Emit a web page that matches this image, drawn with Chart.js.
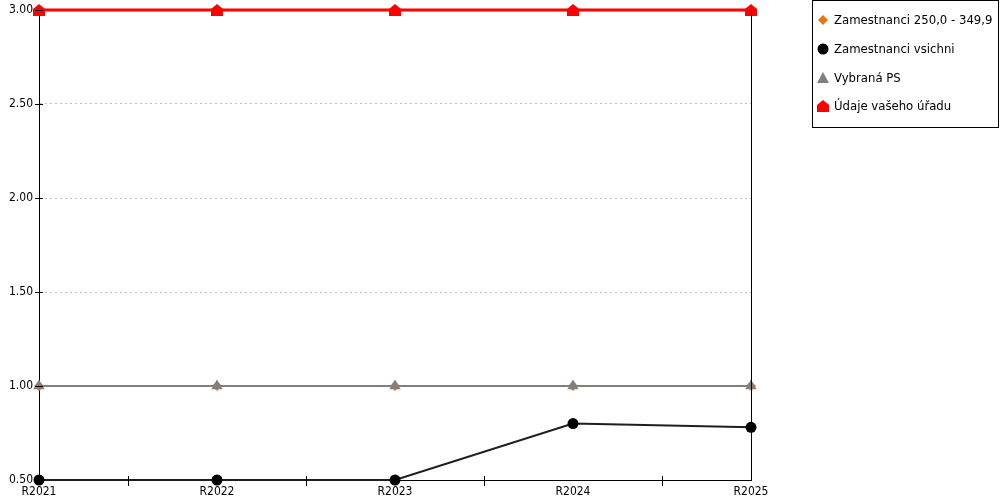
<!DOCTYPE html>
<html>
<head>
<meta charset="utf-8">
<script src="https://cdn.jsdelivr.net/npm/chart.js"></script>
<style>
  html, body { margin: 0; padding: 0; background: #fff; }
  #wrap { width: 1000px; height: 500px; }
</style>
</head>
<body>
<div id="wrap"><canvas id="chart" width="1000" height="500"></canvas></div>
<script>
const years = ["R2021", "R2022", "R2023", "R2024", "R2025"];
const seriesNames = ["Zamestnanci 250,0 - 349,9", "Zamestnanci vsichni", "Vybraná PS", "Údaje vašeho úřadu"];
const zam250 = [1, 1, 1, 1, 1];
const zamVsichni = [0.5, 0.5, 0.5, 0.8, 0.78];
const vybranaPS = [1, 1, 1, 1, 1];
const vasUrad = [3, 3, 3, 3, 3];
const yTicks = [0.5, 1, 1.5, 2, 2.5, 3];

// domecek pro "Údaje vašeho úřadu"
function houseIcon() {
  const c = document.createElement("canvas");
  c.width = 12; c.height = 12;
  const g = c.getContext("2d");
  g.fillStyle = "#ff0000";
  g.beginPath();
  g.moveTo(6, 0);
  g.lineTo(12, 5);
  g.lineTo(12, 12);
  g.lineTo(0, 12);
  g.lineTo(0, 5);
  g.closePath();
  g.fill();
  return c;
}
const house = houseIcon();

const FONT = "DejaVu Sans Condensed";

const frame = {
  id: "frame",
  afterDatasetsDraw(chart) {
    const ctx = chart.ctx;
    const a = chart.chartArea;
    const x = chart.scales.x, y = chart.scales.y;
    ctx.save();
    ctx.strokeStyle = "#000";
    ctx.lineWidth = 1;
    ctx.beginPath();
    // pravy okraj
    ctx.moveTo(Math.round(a.right) + 0.5, a.top);
    ctx.lineTo(Math.round(a.right) + 0.5, a.bottom);
    // znacky na ose y
    yTicks.forEach(v => {
      const py = Math.round(y.getPixelForValue(v)) + 0.5;
      ctx.moveTo(a.left - 4, py);
      ctx.lineTo(a.left + 4, py);
    });
    // znacky mezi kategoriemi
    for (let i = 0; i < years.length - 1; i++) {
      const px = Math.round(x.getPixelForValue(i + 0.5)) + 0.5;
      ctx.moveTo(px, a.bottom - 4);
      ctx.lineTo(px, a.bottom + 6);
    }
    ctx.stroke();
    ctx.restore();
  },
  afterDraw(chart) {
    const ctx = chart.ctx;
    ctx.save();
    ctx.fillStyle = "#fff";
    ctx.fillRect(812, 0, 187, 127);
    ctx.strokeStyle = "#000";
    ctx.lineWidth = 1;
    ctx.strokeRect(812.5, 0.5, 186, 127);
    ctx.font = "13px '" + FONT + "'";
    ctx.textBaseline = "middle";
    const rows = [20, 49, 78, 106];
    chart.data.datasets.forEach((ds, i) => {
      const cy = rows[i];
      if (ds.pointStyle === house) {
        ctx.drawImage(house, 817, cy - 6);
      } else {
        ctx.fillStyle = ds.pointBackgroundColor;
        ctx.beginPath();
        drawShape(ctx, ds.pointStyle, 823, cy, ds.legendRadius);
        ctx.fill();
      }
      ctx.fillStyle = "#000";
      ctx.fillText(ds.label, 834, cy + 1);
    });
    ctx.restore();
  }
};

function drawShape(ctx, style, x, y, r) {
  if (style === "circle") {
    ctx.arc(x, y, r, 0, Math.PI * 2);
  } else if (style === "rectRot") {
    ctx.moveTo(x, y - r); ctx.lineTo(x + r, y); ctx.lineTo(x, y + r); ctx.lineTo(x - r, y); ctx.closePath();
  } else if (style === "triangle") {
    ctx.moveTo(x, y - r); ctx.lineTo(x + r, y + r * 0.85); ctx.lineTo(x - r, y + r * 0.85); ctx.closePath();
  }
}

new Chart(document.getElementById("chart"), {
  type: "line",
  data: {
    labels: years,
    datasets: [
      {
        label: seriesNames[0], data: zam250, order: 3,
        borderColor: "#e8750f", borderWidth: 2,
        pointStyle: "rectRot", pointRadius: 5, pointHoverRadius: 5, legendRadius: 5,
        pointBackgroundColor: "#e8750f", pointBorderColor: "#e8750f", pointBorderWidth: 0
      },
      {
        label: seriesNames[1], data: zamVsichni, order: 2,
        borderColor: "#1e1e1e", borderWidth: 2,
        pointStyle: "circle", pointRadius: 5.5, pointHoverRadius: 5.5, legendRadius: 5.5,
        pointBackgroundColor: "#000", pointBorderColor: "#000", pointBorderWidth: 0
      },
      {
        label: seriesNames[2], data: vybranaPS, order: 1,
        borderColor: "#808080", borderWidth: 2,
        pointStyle: "triangle", pointRadius: 6.5, pointHoverRadius: 6.5, legendRadius: 6,
        pointBackgroundColor: "#808080", pointBorderColor: "#808080", pointBorderWidth: 0
      },
      {
        label: seriesNames[3], data: vasUrad, order: 0,
        borderColor: "#ff0000", borderWidth: 3,
        pointStyle: house, pointRadius: 6, pointHoverRadius: 6, legendRadius: 6,
        pointBackgroundColor: "#ff0000", pointBorderColor: "#ff0000", pointBorderWidth: 0
      }
    ]
  },
  options: {
    responsive: false,
    animation: false,
    events: [],
    layout: { padding: { top: 10, right: 249, left: 0, bottom: 0 } },
    elements: { line: { tension: 0 } },
    plugins: { legend: { display: false }, tooltip: { enabled: false } },
    datasets: { line: { clip: false } },
    scales: {
      x: {
        offset: false,
        grid: { display: false, drawTicks: false },
        border: { display: true, color: "#000", width: 1 },
        ticks: { color: "#000", font: { family: FONT, size: 12 }, padding: 5, maxRotation: 0, autoSkip: false },
        afterFit: s => { s.height = 20; s.paddingLeft = 0; s.paddingRight = 0; }
      },
      y: {
        min: 0.5, max: 3,
        afterBuildTicks: s => { s.ticks = yTicks.map(v => ({ value: v })); },
        grid: { drawTicks: false, color: "#c0c0c0", lineWidth: 1 },
        border: { display: true, color: "#000", width: 1, dash: [2, 3] },
        ticks: {
          color: "#000", font: { family: FONT, size: 12 }, padding: 6,
          callback: v => Number(v).toFixed(2)
        },
        afterFit: s => { s.width = 39; s.paddingTop = 0; s.paddingBottom = 0; }
      }
    }
  },
  plugins: [frame]
});
</script>
</body>
</html>
